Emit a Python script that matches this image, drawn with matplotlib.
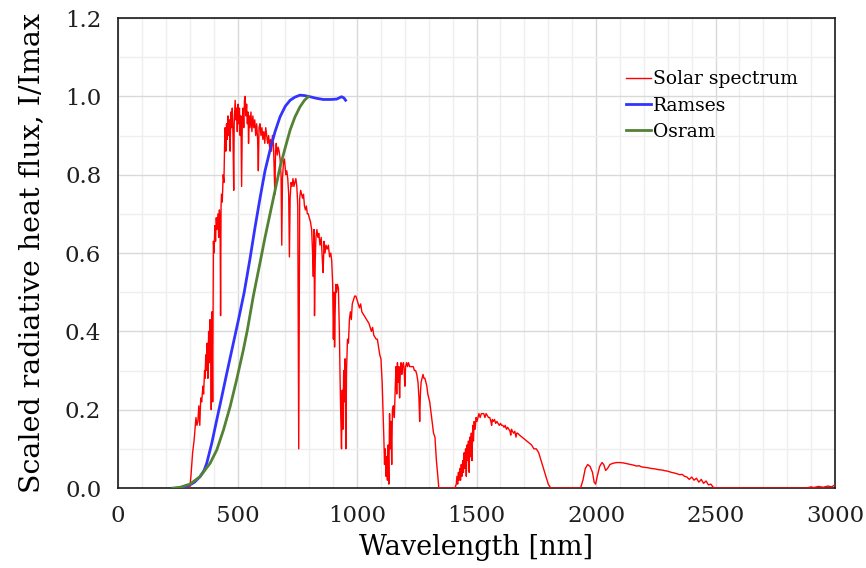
import matplotlib

matplotlib.use("Agg")

import matplotlib.pyplot as plt
from matplotlib.ticker import MultipleLocator, FormatStrFormatter

# Solar spectrum (wavelength nm, scaled flux)
solar_wl = [
    280, 300, 305, 312, 318, 322, 326, 330, 334, 338, 342, 346, 350, 355, 358, 362, 364, 367, 370, 373,
    376, 379, 382, 385, 388, 390, 393, 396, 399, 402, 405, 408, 411, 414, 418, 421, 424, 427, 429, 431,
    433, 436, 440, 443, 446, 448, 451, 454, 457, 460, 463, 466, 469, 472, 475, 478, 481, 484, 486, 490,
    493, 496, 499, 502, 505, 508, 511, 514, 517, 520, 523, 526, 529, 532, 535, 538, 541, 544, 546, 549,
    552, 556, 560, 564, 568, 572, 576, 580, 584, 587, 590, 594, 598, 602, 606, 610, 614, 618, 622, 626,
    630, 634, 638, 642, 646, 650, 653, 656, 659, 662, 666, 670, 674, 678, 682, 685, 688, 692, 696, 699,
    702, 706, 710, 714, 717, 720, 724, 728, 732, 736, 740, 744, 748, 752, 754, 756, 758, 760, 764, 768,
    772, 776, 780, 784, 788, 792, 796, 800, 805, 810, 814, 817, 820, 822, 825, 828, 832, 836, 840, 845,
    850, 855, 858, 862, 866, 870, 875, 880, 885, 890, 894, 898, 901, 904, 906, 908, 911, 914, 918, 922,
    926, 929, 932, 935, 938, 941, 944, 947, 950, 953, 956, 960, 964, 968, 972, 976, 980, 985, 990, 995,
    1000, 1005, 1010, 1015, 1020, 1030, 1040, 1050, 1055, 1060, 1065, 1070, 1080, 1085, 1090, 1095, 1100, 1105, 1108, 1112,
    1115, 1118, 1121, 1124, 1127, 1130, 1133, 1136, 1139, 1142, 1145, 1148, 1152, 1156, 1160, 1163, 1166, 1169, 1172, 1175,
    1178, 1181, 1184, 1187, 1190, 1194, 1197, 1200, 1203, 1207, 1211, 1215, 1220, 1225, 1230, 1235, 1240, 1245, 1250, 1255,
    1259, 1262, 1265, 1268, 1272, 1276, 1280, 1284, 1288, 1292, 1296, 1300, 1304, 1308, 1312, 1316, 1320, 1326, 1332, 1338,
    1342, 1345, 1410, 1415, 1418, 1421, 1424, 1427, 1430, 1433, 1436, 1439, 1442, 1445, 1448, 1451, 1454, 1457, 1460, 1463,
    1466, 1469, 1472, 1475, 1478, 1481, 1484, 1487, 1490, 1494, 1498, 1502, 1506, 1510, 1515, 1520, 1525, 1530, 1535, 1540,
    1545, 1550, 1555, 1560, 1563, 1566, 1570, 1575, 1580, 1585, 1590, 1595, 1600, 1605, 1610, 1615, 1620, 1625, 1630, 1635,
    1640, 1643, 1646, 1650, 1655, 1660, 1665, 1668, 1672, 1680, 1690, 1700, 1710, 1720, 1730, 1740, 1750, 1760, 1765, 1770,
    1775, 1780, 1785, 1790, 1795, 1800, 1810, 1935, 1945, 1955, 1965, 1975, 1985, 1992, 1998, 2005, 2015, 2025, 2032, 2040,
    2048, 2058, 2070, 2085, 2100, 2115, 2130, 2145, 2160, 2170, 2180, 2190, 2200, 2215, 2230, 2245, 2260, 2275, 2290, 2300,
    2315, 2330, 2340, 2350, 2360, 2370, 2380, 2390, 2400, 2410, 2420, 2430, 2440, 2450, 2460, 2470, 2480, 2490, 2500, 2880,
    2900, 2910, 2930, 2950, 2970, 2985, 3000,
]
solar_val = [
    0.0, 0.0, 0.03, 0.09, 0.12, 0.15, 0.18, 0.16, 0.17, 0.21, 0.16, 0.23, 0.22, 0.26, 0.24, 0.30, 0.28, 0.34, 0.30, 0.37,
    0.28, 0.40, 0.32, 0.43, 0.35, 0.20, 0.45, 0.22, 0.63, 0.60, 0.67, 0.63, 0.69, 0.66, 0.70, 0.64, 0.71, 0.68, 0.44, 0.72,
    0.75, 0.73, 0.80, 0.78, 0.88, 0.92, 0.86, 0.93, 0.89, 0.95, 0.90, 0.94, 0.86, 0.96, 0.92, 0.97, 0.90, 0.76, 0.93, 0.99,
    0.94, 0.97, 0.91, 0.98, 0.93, 0.97, 0.90, 0.95, 0.77, 0.94, 0.97, 0.92, 0.99, 1.00, 0.95, 0.98, 0.93, 0.96, 0.88, 0.95,
    0.92, 0.96, 0.91, 0.95, 0.92, 0.94, 0.90, 0.93, 0.89, 0.81, 0.92, 0.93, 0.90, 0.92, 0.89, 0.91, 0.88, 0.92, 0.90, 0.88,
    0.90, 0.87, 0.89, 0.86, 0.90, 0.88, 0.82, 0.75, 0.86, 0.88, 0.85, 0.87, 0.86, 0.84, 0.80, 0.62, 0.79, 0.83, 0.84, 0.82,
    0.80, 0.81, 0.79, 0.75, 0.59, 0.74, 0.78, 0.77, 0.79, 0.77, 0.78, 0.79, 0.77, 0.72, 0.40, 0.10, 0.45, 0.74, 0.76, 0.75,
    0.74, 0.75, 0.72, 0.71, 0.72, 0.70, 0.70, 0.69, 0.68, 0.66, 0.60, 0.54, 0.66, 0.44, 0.58, 0.64, 0.66, 0.64, 0.65, 0.62,
    0.64, 0.58, 0.55, 0.63, 0.60, 0.62, 0.61, 0.62, 0.59, 0.60, 0.58, 0.52, 0.38, 0.50, 0.36, 0.44, 0.52, 0.50, 0.52, 0.51,
    0.40, 0.28, 0.18, 0.10, 0.25, 0.15, 0.30, 0.22, 0.33, 0.10, 0.30, 0.38, 0.37, 0.43, 0.45, 0.43, 0.47, 0.48, 0.49, 0.49,
    0.48, 0.47, 0.46, 0.47, 0.45, 0.44, 0.43, 0.42, 0.41, 0.40, 0.41, 0.39, 0.38, 0.38, 0.36, 0.34, 0.33, 0.27, 0.21, 0.13,
    0.06, 0.10, 0.03, 0.08, 0.02, 0.11, 0.01, 0.19, 0.10, 0.17, 0.06, 0.20, 0.21, 0.18, 0.26, 0.31, 0.24, 0.32, 0.27, 0.31,
    0.23, 0.30, 0.32, 0.29, 0.31, 0.32, 0.30, 0.26, 0.31, 0.32, 0.31, 0.32, 0.31, 0.31, 0.31, 0.31, 0.30, 0.30, 0.29, 0.27,
    0.23, 0.17, 0.24, 0.27, 0.28, 0.29, 0.28, 0.28, 0.27, 0.26, 0.24, 0.23, 0.22, 0.20, 0.18, 0.16, 0.14, 0.13, 0.07, 0.03,
    0.0, 0.0, 0.0, 0.01, 0.03, 0.01, 0.04, 0.02, 0.05, 0.02, 0.06, 0.03, 0.07, 0.04, 0.09, 0.05, 0.10, 0.03, 0.11, 0.07,
    0.12, 0.04, 0.13, 0.08, 0.14, 0.07, 0.16, 0.12, 0.17, 0.15, 0.18, 0.17, 0.18, 0.19, 0.18, 0.19, 0.19, 0.19, 0.18, 0.19,
    0.185, 0.18, 0.18, 0.17, 0.16, 0.175, 0.17, 0.175, 0.165, 0.17, 0.165, 0.16, 0.165, 0.16, 0.16, 0.155, 0.16, 0.15, 0.155, 0.15,
    0.145, 0.135, 0.15, 0.145, 0.14, 0.145, 0.13, 0.14, 0.14, 0.135, 0.13, 0.125, 0.12, 0.115, 0.11, 0.10, 0.10, 0.09, 0.08, 0.07,
    0.06, 0.05, 0.04, 0.03, 0.02, 0.01, 0.0, 0.0, 0.02, 0.05, 0.06, 0.055, 0.04, 0.015, 0.01, 0.03, 0.055, 0.065, 0.06, 0.045,
    0.05, 0.06, 0.063, 0.065, 0.065, 0.064, 0.062, 0.06, 0.058, 0.056, 0.057, 0.054, 0.053, 0.052, 0.05, 0.049, 0.047, 0.046, 0.044, 0.043,
    0.04, 0.038, 0.036, 0.034, 0.035, 0.03, 0.028, 0.022, 0.028, 0.02, 0.025, 0.015, 0.022, 0.012, 0.018, 0.008, 0.01, 0.002, 0.0, 0.0,
    0.003, 0.001, 0.004, 0.002, 0.005, 0.003, 0.008,
]

# Ramses sensor response
ramses_wl = [260, 280, 301, 320, 343, 360, 371, 392, 413, 434, 455, 476, 504, 528, 552, 573, 594, 615, 636, 657,
             678, 700, 720, 740, 761, 780, 803, 830, 859, 890, 915, 935, 945, 952]
ramses_val = [0.0, 0.003, 0.008, 0.015, 0.029, 0.045, 0.063, 0.114, 0.174, 0.233, 0.293, 0.352, 0.43, 0.50, 0.585,
              0.665, 0.74, 0.81, 0.863, 0.91, 0.948, 0.975, 0.99, 0.998, 1.003, 1.002, 0.999, 0.995, 0.992, 0.992,
              0.993, 0.999, 0.996, 0.99]

# Osram lamp
osram_wl = [230, 260, 301, 343, 385, 413, 441, 469, 496, 524, 541, 566, 594, 615, 636, 657, 678, 700, 720, 740,
            761, 780, 796]
osram_val = [0.0, 0.002, 0.01, 0.029, 0.063, 0.097, 0.148, 0.208, 0.276, 0.352, 0.403, 0.49, 0.575, 0.64, 0.70,
             0.76, 0.82, 0.87, 0.914, 0.947, 0.973, 0.99, 0.999]

plt.rcParams["font.family"] = "DejaVu Serif"

fig = plt.figure(figsize=(8.66, 5.68), dpi=100)
ax = fig.add_axes([0.1363, 0.1408, 0.828, 0.8275])

ax.plot(solar_wl, solar_val, color="#ff0000", linewidth=1.0, label="Solar spectrum", zorder=3)
ax.plot(ramses_wl, ramses_val, color="#3333ff", linewidth=2, label="Ramses", zorder=4)
ax.plot(osram_wl, osram_val, color="#548235", linewidth=2, label="Osram", zorder=4)

ax.set_xlim(0, 3000)
ax.set_ylim(0, 1.2)
ax.xaxis.set_major_locator(MultipleLocator(500))
ax.xaxis.set_minor_locator(MultipleLocator(100))
ax.yaxis.set_major_locator(MultipleLocator(0.2))
ax.yaxis.set_minor_locator(MultipleLocator(0.1))
ax.yaxis.set_major_formatter(FormatStrFormatter("%.1f"))
ax.grid(True, which="major", color="#d9d9d9", linewidth=1)
ax.grid(True, which="minor", color="#efefef", linewidth=1)
ax.set_axisbelow(True)
ax.tick_params(which="both", length=0, labelsize=16.5, pad=12, colors="#1f1f1f")
for sp in ax.spines.values():
    sp.set_color("#1a1a1a")
    sp.set_linewidth(1.2)

ax.set_xlabel("Wavelength [nm]", fontsize=19.5, labelpad=5)
ax.set_ylabel("Scaled radiative heat flux, I/Imax", fontsize=20.5, labelpad=14)

ax.legend(loc="upper left", bbox_to_anchor=(0.696, 0.909), frameon=False, fontsize=13.5,
          handlelength=1.3, handletextpad=0.1, labelspacing=0.45, borderpad=0)

fig.savefig("out.png", dpi=100)
